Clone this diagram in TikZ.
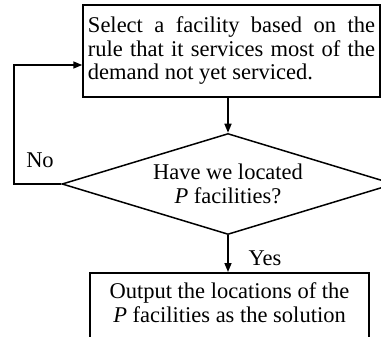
\documentclass[tikz,border=0pt]{standalone}
\usepackage{fontspec}
\setmainfont{Liberation Serif}
\usetikzlibrary{shapes.geometric,arrows.meta}
\tikzset{
  flow/.style={line width=1.5pt, -{Triangle[length=9pt,width=7pt]}},
  plain/.style={line width=1.5pt},
  boxnode/.style={draw, line width=1.5pt, inner sep=0pt, font=\fontsize{22.5}{24}\selectfont},
  decision/.style={draw, diamond, line width=1.5pt, inner sep=0pt, minimum width=332pt, minimum height=101pt, aspect=3.29, align=center, font=\fontsize{22.5}{24}\selectfont},
  lbl/.style={inner sep=0pt, font=\fontsize{22.5}{24}\selectfont}
}
\begin{document}
\begin{tikzpicture}[x=1pt,y=-1pt]
\useasboundingbox (0,0) rectangle (381,337);
\clip (0,0) rectangle (381,337);
\node[boxnode, minimum width=297pt, minimum height=92pt] (sel) at (231.5,51)
  {\parbox{287pt}{\hyphenpenalty=10000\tolerance=10000\fontsize{22.5}{23.5}\selectfont Select a facility based on the rule that it services most of the demand not yet serviced.}};
\node[decision] (dia) at (228,184) {Have we located\\\textit{P} facilities?};
\node[boxnode, anchor=north, minimum width=279pt, inner ysep=10pt] (out) at (229.5,272)
  {\parbox[t][75pt][t]{270pt}{\centering\fontsize{22.5}{23.5}\selectfont Output the locations of the\\\textit{P} facilities as the solution}};
\node[lbl] (no) at (40,160) {No};
\node[lbl] (yes) at (265,258) {Yes};
\coordinate (lp) at (14,65);
\draw[flow] (sel.south -| dia.north) -- (dia.north);
\draw[flow] (dia.south) -- (dia.south |- out.north);
\draw[flow] (dia.west) -| (lp) -- (lp -| sel.west);
\end{tikzpicture}
\end{document}
